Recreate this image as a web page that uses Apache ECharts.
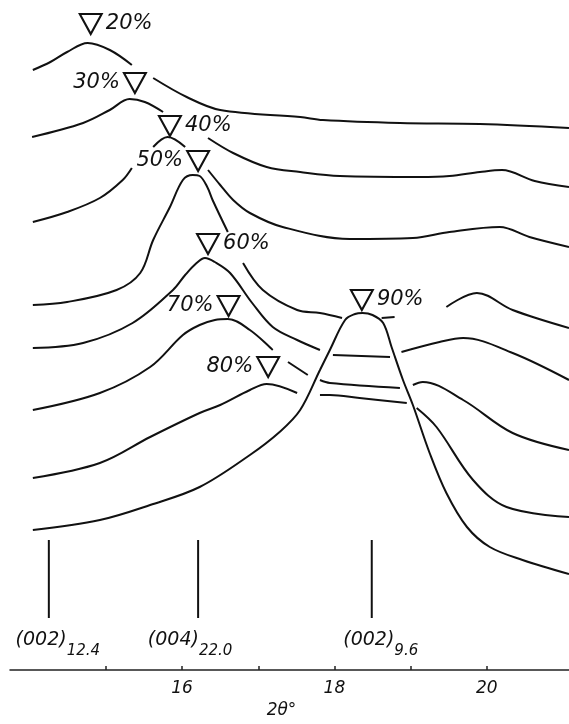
<!DOCTYPE html>
<html>
<head>
<meta charset="utf-8">
<script src="https://cdn.jsdelivr.net/npm/echarts@6/dist/echarts.min.js"></script>
<style>
  html, body { margin: 0; padding: 0; background: #ffffff; }
  #chart { width: 569px; height: 724px; }
</style>
</head>
<body>
<div id="chart"></div>
<script>
// 2θ axis: minor tick marks and the labelled ones
const tickValues = [15, 16, 17, 18, 19, 20];
const labelValues = [16, 18, 20];

// Diffraction traces, [2θ in degrees, intensity in arbitrary units, offset per trace].
// A null intensity is a break in the pen trace (label or crossing line).
const trace20 = [[14.04,600],[14.27,608],[14.49,618],[14.76,627],[15.05,620],[15.34,605],[15.48,null],
  [15.62,592],[16.06,573],[16.50,560],[17.55,553],[17.85,550],[18.86,547],[19.91,546],[21.08,542]];
const trace30 = [[14.03,533],[14.70,547],[15.05,560],[15.31,571],[15.51,568],[15.75,558],[16.05,null],
  [16.34,532],[16.67,517],[17.11,503],[17.55,498],[18.07,494],[19.12,493],[19.51,494],[19.91,498],
  [20.20,500],[20.63,489],[21.08,483]];
const trace40 = [[14.04,448],[14.49,458],[14.92,472],[15.22,490],[15.34,502],[15.48,null],
  [15.62,523],[15.81,533],[16.04,523],[16.19,null],[16.34,500],[16.50,485],[16.67,470],[16.89,457],
  [17.32,443],[18.20,431],[19.03,432],[19.51,438],[20.17,443],[20.56,433],[21.08,423]];
const trace50 = [[14.04,365],[14.49,368],[15.14,380],[15.45,397],[15.62,430],[15.84,463],[16.01,490],
  [16.14,495],[16.23,494],[16.33,483],[16.40,470],[16.60,438],[16.70,null],[16.80,407],[17.06,380],
  [17.51,360],[17.81,357],[18.10,352],[18.35,null],[18.62,352],[18.79,353],[19.10,null],
  [19.47,363],[19.87,377],[20.34,360],[21.08,342]];
const trace60 = [[14.04,322],[14.70,327],[15.35,347],[15.88,380],[16.04,395],[16.19,407],[16.30,412],
  [16.43,408],[16.63,397],[16.92,367],[17.19,343],[17.51,330],[17.81,320],[17.90,null],
  [17.98,315],[18.73,313],[18.80,null],[18.88,318],[19.38,328],[19.69,332],[20.34,317],[21.08,290]];
const trace70 = [[14.04,260],[14.92,277],[15.58,303],[16.01,335],[16.23,345],[16.43,350],[16.60,351],
  [16.89,340],[17.19,320],[17.29,null],[17.39,308],[17.65,295],[17.72,null],[17.81,290],[17.94,287],
  [18.86,282],[18.95,null],[19.03,285],[19.16,288],[19.69,270],[20.34,237],[21.08,220]];
const trace80 = [[14.04,192],[14.92,207],[15.58,233],[16.23,257],[16.50,265],[16.89,280],[17.11,286],
  [17.51,277],[17.66,null],[17.81,275],[17.94,275],[18.33,272],[18.95,267],[19.01,null],
  [19.08,262],[19.34,243],[19.82,190],[20.26,163],[21.08,153]];
const trace90 = [[14.04,140],[14.92,150],[15.58,165],[16.23,183],[16.89,215],[17.28,238],[17.55,260],
  [17.81,300],[17.94,320],[18.14,350],[18.27,356],[18.37,357],[18.50,355],[18.64,347],[18.75,323],
  [18.90,290],[19.03,265],[19.25,217],[19.47,177],[19.74,143],[20.04,123],[20.47,110],[21.08,96]];

const traces = [trace20, trace30, trace40, trace50, trace60, trace70, trace80, trace90];

// Peak markers: composition, 2θ of the marked peak, height of the marker
const peakNames = ['20%', '30%', '40%', '50%', '60%', '70%', '80%', '90%'];
const peakTheta = [14.80, 15.38, 15.84, 16.21, 16.34, 16.61, 17.13, 18.36];
const peakLevel = [646, 587, 544, 509, 426, 364, 303, 370];

// Calculated reflection positions
const reflTheta = [14.25, 16.21, 18.49];
const reflIndex = ['(002)', '(004)', '(002)'];
const reflSpacing = ['12.4', '22.0', '9.6'];

const FONT = 'DejaVu Sans';
const INK = '#111111';

const labelSide = ['right', 'left', 'right', 'left', 'right', 'left', 'left', 'right'];
const reflLabelShift = [9, -8, 9];

const series = [];

traces.forEach(function (t, i) {
  series.push({
    type: 'line',
    name: peakNames[i],
    data: t,
    showSymbol: false,
    smooth: 0.35,
    connectNulls: false,
    silent: true,
    lineStyle: { color: INK, width: 2 },
    z: 2
  });
});

// Reflection sticks
reflTheta.forEach(function (th) {
  series.push({
    type: 'line',
    data: [[th, 130], [th, 52]],
    showSymbol: false,
    silent: true,
    lineStyle: { color: INK, width: 2 },
    z: 2
  });
});

// Reflection labels with subscript d-spacing
series.push({
  type: 'scatter',
  symbolSize: 0,
  silent: true,
  itemStyle: { opacity: 1 },
  data: reflTheta.map(function (th) { return [th, 25]; }),
  label: {
    show: true,
    position: 'inside',
    formatter: function (p) {
      const i = p.dataIndex;
      return '{m|' + reflIndex[i] + '}{s|' + reflSpacing[i] + '}';
    },
    rich: {
      m: { fontFamily: FONT, fontStyle: 'italic', fontSize: 19, color: INK, padding: [0, 0, 10, 0] },
      s: { fontFamily: FONT, fontStyle: 'italic', fontSize: 15, color: INK, padding: [12, 0, 0, 0] }
    }
  },
  labelLayout: function (params) {
    return { dx: reflLabelShift[params.dataIndex] };
  },
  z: 3
});

// Peak markers (open downward triangles) with composition labels
series.push({
  type: 'scatter',
  silent: true,
  symbol: 'path://M0,0L20,0L10,18Z',
  symbolSize: [22, 20],
  itemStyle: { color: '#ffffff', borderColor: INK, borderWidth: 2, opacity: 1 },
  data: peakTheta.map(function (th, i) {
    return {
      value: [th, peakLevel[i]],
      label: { position: labelSide[i] }
    };
  }),
  label: {
    show: true,
    distance: 3,
    formatter: function (p) { return peakNames[p.dataIndex]; },
    fontFamily: FONT,
    fontStyle: 'italic',
    fontSize: 21,
    color: INK
  },
  z: 4
});

const chart = echarts.init(document.getElementById('chart'), null, { renderer: 'canvas' });
chart.setOption({
  animation: false,
  backgroundColor: '#ffffff',
  grid: { left: 10, right: 0, top: 0, bottom: 54, outerBoundsMode: 'none' },
  xAxis: {
    type: 'value',
    min: 13.74,
    max: 21.08,
    name: '2θ°',
    nameLocation: 'middle',
    nameGap: 29,
    nameTextStyle: { fontFamily: FONT, fontStyle: 'italic', fontSize: 17, color: INK, padding: [0, 16, 0, 0] },
    axisLine: { lineStyle: { color: '#222222', width: 1.5 } },
    axisTick: { show: true, inside: true, length: 4, customValues: tickValues, lineStyle: { color: '#222222', width: 1.5 } },
    axisLabel: { customValues: labelValues, margin: 10, fontFamily: FONT, fontStyle: 'italic', fontSize: 17, color: INK },
    splitLine: { show: false }
  },
  yAxis: { type: 'value', min: 0, max: 670, show: false },
  series: series
});
</script>
</body>
</html>
